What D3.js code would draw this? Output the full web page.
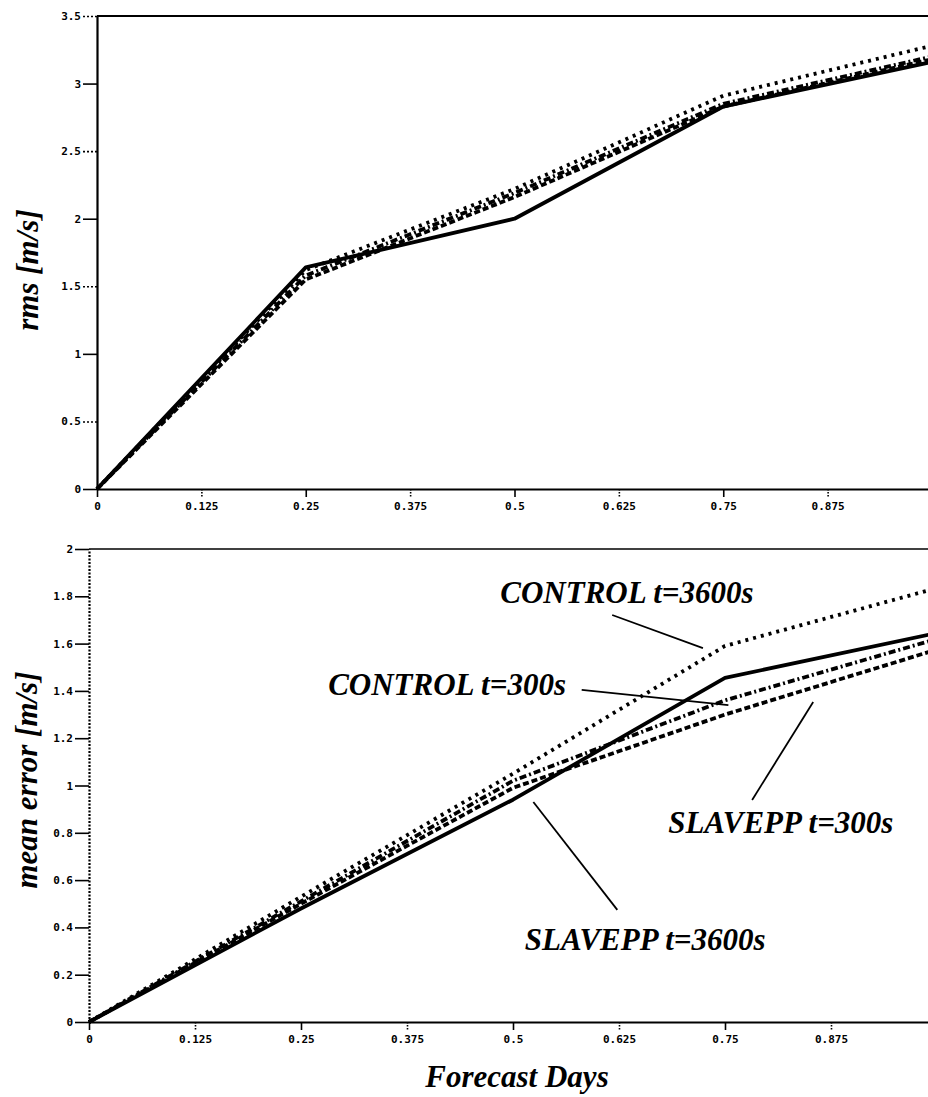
<!DOCTYPE html>
<html>
<head>
<meta charset="utf-8">
<script src="https://cdn.jsdelivr.net/npm/d3@7/dist/d3.min.js"></script>
<style>
  html, body { margin: 0; padding: 0; background: #fff; }
  svg { display: block; }
  .tick text { font-family: "DejaVu Sans Mono", monospace; font-weight: bold; font-size: 11px; fill: #000; }
  .title { font-family: "Liberation Serif", "Times New Roman", serif; font-weight: bold; font-style: italic; font-size: 31px; fill: #000; }
</style>
</head>
<body>
<script>
// Forecast time (days) at which the errors were evaluated
const days = [0, 0.25, 0.5, 0.75, 1];

// Experiment names
const seriesNames = ["CONTROL t=3600s", "CONTROL t=300s", "SLAVEPP t=300s", "SLAVEPP t=3600s"];

// RMS error [m/s]
const rmsControl3600 = [0, 1.62, 2.22, 2.91, 3.28];
const rmsControl300  = [0, 1.58, 2.19, 2.85, 3.20];
const rmsSlavepp300  = [0, 1.55, 2.16, 2.83, 3.18];
const rmsSlavepp3600 = [0, 1.64, 2.00, 2.83, 3.16];

// Mean error [m/s]
const meanControl3600 = [0, 0.53, 1.05, 1.59, 1.835];
const meanControl300  = [0, 0.51, 1.02, 1.36, 1.62];
const meanSlavepp300  = [0, 0.50, 0.99, 1.30, 1.575];
const meanSlavepp3600 = [0, 0.48, 0.94, 1.455, 1.645];

// Axis ticks
const xTicks = [0, 0.125, 0.25, 0.375, 0.5, 0.625, 0.75, 0.875];
const xTickLabels = ["0", "0.125", "0.25", "0.375", "0.5", "0.625", "0.75", "0.875"];
const rmsTicks = [0, 0.5, 1, 1.5, 2, 2.5, 3, 3.5];
const rmsTickLabels = ["0", "0.5", "1", "1.5", "2", "2.5", "3", "3.5"];
const meanTicks = [0, 0.2, 0.4, 0.6, 0.8, 1, 1.2, 1.4, 1.6, 1.8, 2];
const meanTickLabels = ["0", "0.2", "0.4", "0.6", "0.8", "1", "1.2", "1.4", "1.6", "1.8", "2"];

const W = 928, H = 1097;

// Line dash patterns per experiment
const dash = {
  "CONTROL t=3600s": "3,5",
  "CONTROL t=300s": "7,3,2,3",
  "SLAVEPP t=300s": "6,3",
  "SLAVEPP t=3600s": null
};

const svg = d3.select("body").append("svg")
  .attr("width", W).attr("height", H)
  .attr("viewBox", `0 0 ${W} ${H}`);

function panel(opts) {
  const x = d3.scaleLinear().domain([0, 1]).range(opts.xRange);
  const y = d3.scaleLinear().domain(opts.yDomain).range(opts.yRange);
  const g = svg.append("g");

  // top frame line
  g.append("line")
    .attr("x1", x(0)).attr("x2", x(1))
    .attr("y1", y(opts.yDomain[1])).attr("y2", y(opts.yDomain[1]))
    .attr("stroke", "#000").attr("stroke-width", opts.topWidth);

  // x axis
  const xa = g.append("g")
    .attr("transform", `translate(0,${y(0)})`)
    .call(d3.axisBottom(x).tickValues(xTicks)
      .tickFormat((d, i) => xTickLabels[i]).tickSize(8).tickSizeOuter(0).tickPadding(5));
  xa.select(".domain").attr("stroke-width", 2.2);
  xa.selectAll(".tick line").attr("stroke-width", 1.6)
    .attr("stroke-dasharray", (d, i) => i % 2 ? "1.5,1.5" : null);

  // y axis
  const ya = g.append("g")
    .attr("transform", `translate(${x(0)},0)`)
    .call(d3.axisLeft(y).tickValues(opts.ticks)
      .tickFormat((d, i) => opts.tickLabels[i]).tickSize(14).tickSizeOuter(0).tickPadding(2));
  ya.select(".domain").attr("stroke-width", 2.2)
    .attr("stroke-dasharray", opts.dottedAxis ? "2,1.5" : null);
  ya.selectAll(".tick line").attr("stroke-width", 1.6)
    .attr("stroke-dasharray", (d, i) => (opts.dottedHalf && i % 2) ? "2,2" : null);

  // data lines
  const line = d3.line().x((d, i) => x(days[i])).y(d => y(d));
  opts.series.forEach((vals, k) => {
    g.append("path")
      .datum(vals)
      .attr("d", line)
      .attr("fill", "none")
      .attr("stroke", "#000")
      .attr("stroke-width", 3.8)
      .attr("stroke-linejoin", "round")
      .attr("stroke-dasharray", dash[seriesNames[k]]);
  });

  // y title
  g.append("text").attr("class", "title")
    .attr("transform", `translate(${opts.yTitleX},${opts.yTitleY}) rotate(-90)`)
    .attr("text-anchor", "middle")
    .text(opts.yTitle);

  return { x, y, g };
}

const rmsPanel = panel({
  xRange: [97, 932], yDomain: [0, 3.5], yRange: [489, 16],
  ticks: rmsTicks, tickLabels: rmsTickLabels,
  series: [rmsControl3600, rmsControl300, rmsSlavepp300, rmsSlavepp3600],
  yTitle: "rms [m/s]", yTitleX: 38, yTitleY: 270,
  topWidth: 2.2, dottedAxis: false, dottedHalf: true
});

const meanPanel = panel({
  xRange: [89, 937], yDomain: [0, 2], yRange: [1022, 549],
  ticks: meanTicks, tickLabels: meanTickLabels,
  series: [meanControl3600, meanControl300, meanSlavepp300, meanSlavepp3600],
  yTitle: "mean error [m/s]", yTitleX: 37, yTitleY: 780,
  topWidth: 1.6, dottedAxis: true, dottedHalf: false
});

// x title
svg.append("text").attr("class", "title")
  .attr("x", 517).attr("y", 1087)
  .attr("text-anchor", "middle")
  .text("Forecast Days");

// Callout labels with leader lines (in forecast-day / m/s units)
const callouts = [
  { name: "CONTROL t=3600s", text: [0.485, 1.772], from: [0.617, 1.721], to: [0.724, 1.581] },
  { name: "CONTROL t=300s",  text: [0.282, 1.383], from: [0.581, 1.404], to: [0.754, 1.340] },
  { name: "SLAVEPP t=300s",  text: [0.683, 0.799], from: [0.854, 1.353], to: [0.782, 0.939] },
  { name: "SLAVEPP t=3600s", text: [0.514, 0.304], from: [0.524, 0.930], to: [0.623, 0.474] }
];
const bx = meanPanel.x, by = meanPanel.y;
callouts.forEach(c => {
  svg.append("line")
    .attr("x1", bx(c.from[0])).attr("y1", by(c.from[1]))
    .attr("x2", bx(c.to[0])).attr("y2", by(c.to[1]))
    .attr("stroke", "#000").attr("stroke-width", 1.8);
  svg.append("text").attr("class", "title")
    .attr("x", bx(c.text[0])).attr("y", by(c.text[1]))
    .text(c.name);
});
</script>
</body>
</html>
